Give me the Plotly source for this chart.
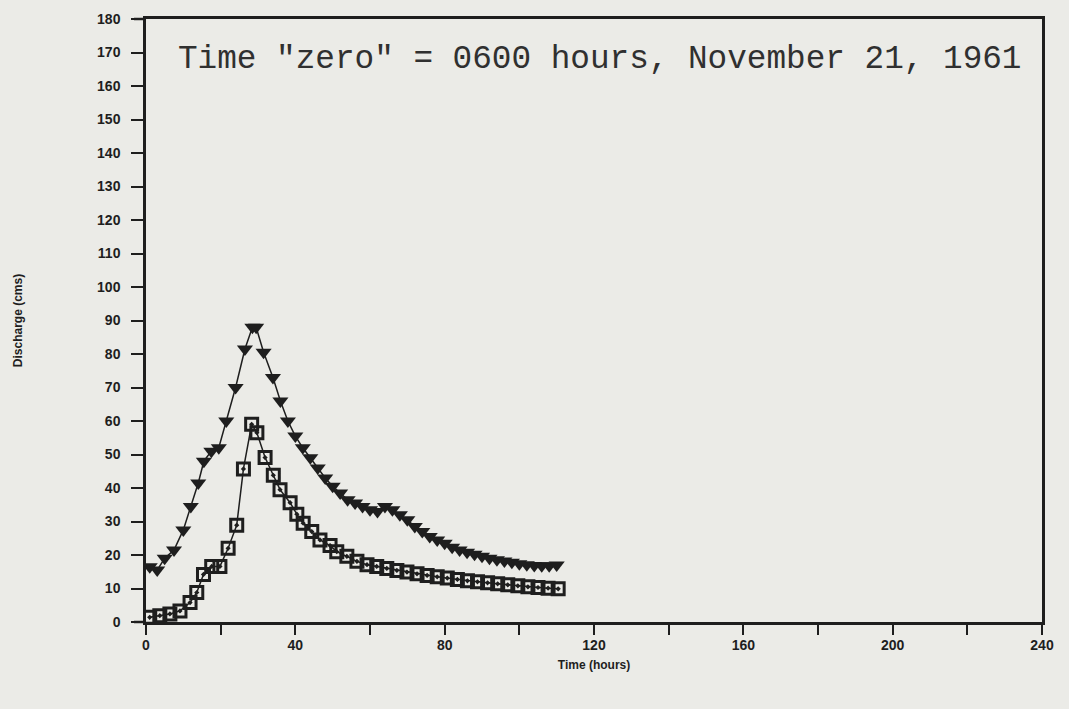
import plotly.graph_objects as go

# Upper series (triangles)
tri_t = [1, 3, 5, 7.5, 10, 12, 14, 15.5, 17.5, 19.5, 21.5, 24, 26.5, 28.5, 29.5, 31.5,
         34, 36, 38, 40, 42, 44, 46, 48, 50, 52, 54, 56, 58, 60,
         62, 64, 66, 68, 70, 72, 74, 76, 78, 80, 82, 84, 86, 88, 90, 92, 94, 96, 98,
         100, 102, 104, 106, 108, 110]
tri_q = [16.5, 15.5, 19, 21.5, 27.5, 34.5, 41.5, 48, 51, 52, 60, 70, 81.5, 88, 88, 80.5,
         73, 66, 60, 55.5, 52, 49, 46, 43, 40.5, 38.5, 36.5, 35.5, 34.5, 33.5,
         33, 34.5, 33.5, 32, 30.5, 28.5, 27, 25.5, 24.5, 23.5, 22.3, 21.5, 20.8, 20.2,
         19.6, 19, 18.6, 18.2, 17.8, 17.4, 17.1, 16.9, 16.8, 16.8, 17]

# Lower series (squares)
sq_t = [1, 3.7, 6.4, 9.1, 11.8, 13.6, 15.4, 17.6, 19.8, 22, 24.3, 26.1, 28.3, 29.7, 31.9,
        34.1, 35.9, 38.6, 40.4, 42.1, 44.4, 46.6, 49.3, 51.1, 53.8, 56.5, 59.2, 61.8,
        64.5, 67.2, 69.9, 72.6, 75.3, 78, 80.7, 83.4, 86.1, 88.8, 91.5, 94.2, 96.9,
        99.6, 102.3, 105, 107.7, 110.4]
sq_q = [1.4, 1.9, 2.4, 3.3, 5.8, 8.8, 14.2, 16.6, 16.6, 22, 28.9, 45.7, 59, 56.5, 49.1,
        43.8, 39.5, 35.6, 32.2, 29.5, 27, 24.5, 22.8, 21, 19.6, 18.1, 17.1, 16.6,
        16, 15.4, 14.9, 14.4, 13.9, 13.5, 13.1, 12.7, 12.3, 12, 11.7, 11.4, 11.1,
        10.8, 10.5, 10.3, 10.1, 9.9]

ink = "#1e1e1e"
bg = "#ebebe7"

fig = go.Figure()
fig.add_trace(go.Scatter(
    x=tri_t, y=tri_q, mode="lines+markers",
    line=dict(color=ink, width=1.5),
    marker=dict(symbol="triangle-down", size=14, color=ink),
    showlegend=False))
fig.add_trace(go.Scatter(
    x=sq_t, y=sq_q, mode="lines+markers",
    line=dict(color=ink, width=1.5),
    marker=dict(symbol="square-open-dot", size=12, color=ink, line=dict(width=3, color=ink)),
    showlegend=False))

tickfont = dict(family="Liberation Sans, Arial, sans-serif", size=14, color=ink, weight=700)
titlefont = dict(family="Liberation Sans, Arial, sans-serif", size=12, color=ink, weight=700)

# small left extensions of the top and bottom frame lines, as in the original
ext = 12 / 896
frame_ext = [
    dict(type="line", xref="paper", yref="paper", x0=-ext, x1=0, y0=0, y1=0,
         line=dict(color=ink, width=2.5), layer="above"),
    dict(type="line", xref="paper", yref="paper", x0=-ext, x1=0, y0=1, y1=1,
         line=dict(color=ink, width=2.5), layer="above"),
]

fig.update_layout(
    width=1069, height=709,
    paper_bgcolor=bg, plot_bgcolor=bg,
    margin=dict(l=146, r=27, t=11, b=87),
    shapes=frame_ext,
    xaxis=dict(
        range=[0, 240], dtick=40, tick0=0,
        ticks="outside", ticklen=10, tickwidth=2, tickcolor=ink,
        minor=dict(dtick=20, ticks="outside", ticklen=10, tickwidth=2, tickcolor=ink),
        showline=True, linewidth=2.5, linecolor=ink, mirror=True,
        showgrid=False, zeroline=False,
        tickfont=tickfont, ticklabelstandoff=-2,
        title=dict(text="Time (hours)", font=titlefont, standoff=10),
    ),
    yaxis=dict(
        range=[0, 180], dtick=10, tick0=0,
        ticks="outside", ticklen=12, tickwidth=2, tickcolor=ink,
        showline=True, linewidth=2.5, linecolor=ink, mirror=True,
        showgrid=False, zeroline=False,
        tickfont=tickfont, ticklabelstandoff=8,
        title=dict(text="Discharge (cms)", font=titlefont, standoff=72),
    ),
    annotations=[dict(
        text='Time "zero" = 0600 hours, November 21, 1961',
        xref="paper", yref="paper", x=0.033, y=0.933, xanchor="left", yanchor="middle",
        showarrow=False,
        font=dict(family="Liberation Mono, Courier New, monospace", size=32.7, color="#303030"),
    )],
)

fig.write_html("out.html", config={"displayModeBar": False},
               post_script="document.body.style.margin='0';document.body.style.overflow='hidden';")
